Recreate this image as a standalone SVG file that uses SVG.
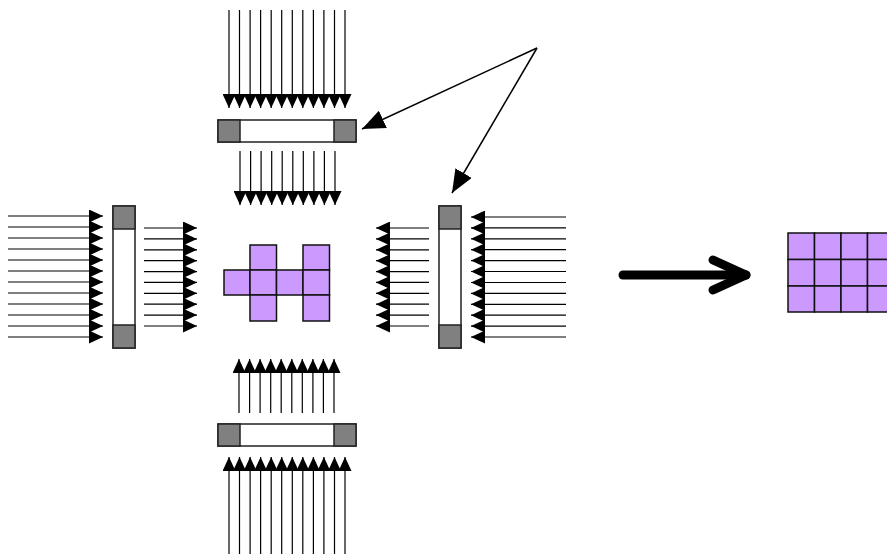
<svg xmlns="http://www.w3.org/2000/svg" width="887" height="554" viewBox="0 0 887 554">
  <defs>
    <style>
      .ray { stroke: #000; stroke-width: 1.2; fill: none; marker-end: url(#tri); }
      .bar { fill: #fff; stroke: #222; stroke-width: 1.5; }
      .cap { fill: #808080; stroke: #222; stroke-width: 1.5; }
      .cell { fill: #cc99ff; stroke: #111; stroke-width: 1.5; }
      .ptr { stroke: #000; stroke-width: 1.5; fill: none; marker-end: url(#ptrHead); }
    </style>
    <marker id="tri" markerUnits="userSpaceOnUse" markerWidth="14" markerHeight="13" refX="14" refY="6.5" orient="auto">
      <path d="M0,0 L14,6.5 L0,13 z" fill="#000"/>
    </marker>
    <marker id="ptrHead" markerUnits="userSpaceOnUse" markerWidth="23" markerHeight="19" refX="23" refY="9.5" orient="auto">
      <path d="M0,0 L23,9.5 L0,19 z" fill="#000"/>
    </marker>
  </defs>

  <g id="connectors">
    <!-- top outer rays (12, pointing down) -->
    <g id="rays-top-outer">
      <line class="ray" x1="229" y1="10" x2="229" y2="108"/>
      <line class="ray" x1="239.5" y1="10" x2="239.5" y2="108"/>
      <line class="ray" x1="250.1" y1="10" x2="250.1" y2="108"/>
      <line class="ray" x1="260.6" y1="10" x2="260.6" y2="108"/>
      <line class="ray" x1="271.2" y1="10" x2="271.2" y2="108"/>
      <line class="ray" x1="281.7" y1="10" x2="281.7" y2="108"/>
      <line class="ray" x1="292.3" y1="10" x2="292.3" y2="108"/>
      <line class="ray" x1="302.8" y1="10" x2="302.8" y2="108"/>
      <line class="ray" x1="313.4" y1="10" x2="313.4" y2="108"/>
      <line class="ray" x1="323.9" y1="10" x2="323.9" y2="108"/>
      <line class="ray" x1="334.5" y1="10" x2="334.5" y2="108"/>
      <line class="ray" x1="345" y1="10" x2="345" y2="108"/>
    </g>
    <!-- top inner rays (10, pointing down) -->
    <g id="rays-top-inner">
      <line class="ray" x1="240" y1="151" x2="240" y2="205"/>
      <line class="ray" x1="250.6" y1="151" x2="250.6" y2="205"/>
      <line class="ray" x1="261.1" y1="151" x2="261.1" y2="205"/>
      <line class="ray" x1="271.7" y1="151" x2="271.7" y2="205"/>
      <line class="ray" x1="282.2" y1="151" x2="282.2" y2="205"/>
      <line class="ray" x1="292.8" y1="151" x2="292.8" y2="205"/>
      <line class="ray" x1="303.3" y1="151" x2="303.3" y2="205"/>
      <line class="ray" x1="313.9" y1="151" x2="313.9" y2="205"/>
      <line class="ray" x1="324.4" y1="151" x2="324.4" y2="205"/>
      <line class="ray" x1="335" y1="151" x2="335" y2="205"/>
    </g>
    <!-- left outer rays (12, pointing right) -->
    <g id="rays-left-outer">
      <line class="ray" x1="8" y1="216" x2="103" y2="216"/>
      <line class="ray" x1="8" y1="227" x2="103" y2="227"/>
      <line class="ray" x1="8" y1="238" x2="103" y2="238"/>
      <line class="ray" x1="8" y1="249" x2="103" y2="249"/>
      <line class="ray" x1="8" y1="260" x2="103" y2="260"/>
      <line class="ray" x1="8" y1="271" x2="103" y2="271"/>
      <line class="ray" x1="8" y1="282" x2="103" y2="282"/>
      <line class="ray" x1="8" y1="293" x2="103" y2="293"/>
      <line class="ray" x1="8" y1="304" x2="103" y2="304"/>
      <line class="ray" x1="8" y1="315" x2="103" y2="315"/>
      <line class="ray" x1="8" y1="326" x2="103" y2="326"/>
      <line class="ray" x1="8" y1="337" x2="103" y2="337"/>
    </g>
    <!-- left inner rays (10, pointing right) -->
    <g id="rays-left-inner">
      <line class="ray" x1="144" y1="228" x2="197" y2="228"/>
      <line class="ray" x1="144" y1="238.9" x2="197" y2="238.9"/>
      <line class="ray" x1="144" y1="249.8" x2="197" y2="249.8"/>
      <line class="ray" x1="144" y1="260.7" x2="197" y2="260.7"/>
      <line class="ray" x1="144" y1="271.6" x2="197" y2="271.6"/>
      <line class="ray" x1="144" y1="282.4" x2="197" y2="282.4"/>
      <line class="ray" x1="144" y1="293.3" x2="197" y2="293.3"/>
      <line class="ray" x1="144" y1="304.2" x2="197" y2="304.2"/>
      <line class="ray" x1="144" y1="315.1" x2="197" y2="315.1"/>
      <line class="ray" x1="144" y1="326" x2="197" y2="326"/>
    </g>
    <!-- right inner rays (10, pointing left) -->
    <g id="rays-right-inner">
      <line class="ray" x1="429" y1="228" x2="376" y2="228"/>
      <line class="ray" x1="429" y1="238.9" x2="376" y2="238.9"/>
      <line class="ray" x1="429" y1="249.8" x2="376" y2="249.8"/>
      <line class="ray" x1="429" y1="260.7" x2="376" y2="260.7"/>
      <line class="ray" x1="429" y1="271.6" x2="376" y2="271.6"/>
      <line class="ray" x1="429" y1="282.4" x2="376" y2="282.4"/>
      <line class="ray" x1="429" y1="293.3" x2="376" y2="293.3"/>
      <line class="ray" x1="429" y1="304.2" x2="376" y2="304.2"/>
      <line class="ray" x1="429" y1="315.1" x2="376" y2="315.1"/>
      <line class="ray" x1="429" y1="326" x2="376" y2="326"/>
    </g>
    <!-- right outer rays (12, pointing left) -->
    <g id="rays-right-outer">
      <line class="ray" x1="566" y1="217" x2="471" y2="217"/>
      <line class="ray" x1="566" y1="227.9" x2="471" y2="227.9"/>
      <line class="ray" x1="566" y1="238.8" x2="471" y2="238.8"/>
      <line class="ray" x1="566" y1="249.7" x2="471" y2="249.7"/>
      <line class="ray" x1="566" y1="260.6" x2="471" y2="260.6"/>
      <line class="ray" x1="566" y1="271.5" x2="471" y2="271.5"/>
      <line class="ray" x1="566" y1="282.5" x2="471" y2="282.5"/>
      <line class="ray" x1="566" y1="293.4" x2="471" y2="293.4"/>
      <line class="ray" x1="566" y1="304.3" x2="471" y2="304.3"/>
      <line class="ray" x1="566" y1="315.2" x2="471" y2="315.2"/>
      <line class="ray" x1="566" y1="326.1" x2="471" y2="326.1"/>
      <line class="ray" x1="566" y1="337" x2="471" y2="337"/>
    </g>
    <!-- bottom inner rays (10, pointing up) -->
    <g id="rays-bottom-inner">
      <line class="ray" x1="239" y1="413" x2="239" y2="359"/>
      <line class="ray" x1="249.6" y1="413" x2="249.6" y2="359"/>
      <line class="ray" x1="260.1" y1="413" x2="260.1" y2="359"/>
      <line class="ray" x1="270.7" y1="413" x2="270.7" y2="359"/>
      <line class="ray" x1="281.2" y1="413" x2="281.2" y2="359"/>
      <line class="ray" x1="291.8" y1="413" x2="291.8" y2="359"/>
      <line class="ray" x1="302.3" y1="413" x2="302.3" y2="359"/>
      <line class="ray" x1="312.9" y1="413" x2="312.9" y2="359"/>
      <line class="ray" x1="323.4" y1="413" x2="323.4" y2="359"/>
      <line class="ray" x1="334" y1="413" x2="334" y2="359"/>
    </g>
    <!-- bottom outer rays (12, pointing up) -->
    <g id="rays-bottom-outer">
      <line class="ray" x1="229" y1="554" x2="229" y2="457"/>
      <line class="ray" x1="239.5" y1="554" x2="239.5" y2="457"/>
      <line class="ray" x1="250.1" y1="554" x2="250.1" y2="457"/>
      <line class="ray" x1="260.6" y1="554" x2="260.6" y2="457"/>
      <line class="ray" x1="271.2" y1="554" x2="271.2" y2="457"/>
      <line class="ray" x1="281.7" y1="554" x2="281.7" y2="457"/>
      <line class="ray" x1="292.3" y1="554" x2="292.3" y2="457"/>
      <line class="ray" x1="302.8" y1="554" x2="302.8" y2="457"/>
      <line class="ray" x1="313.4" y1="554" x2="313.4" y2="457"/>
      <line class="ray" x1="323.9" y1="554" x2="323.9" y2="457"/>
      <line class="ray" x1="334.5" y1="554" x2="334.5" y2="457"/>
      <line class="ray" x1="345" y1="554" x2="345" y2="457"/>
    </g>
    <!-- pointers to the top and right bars -->
    <line class="ptr" x1="537" y1="48" x2="362" y2="129"/>
    <line class="ptr" x1="537" y1="48" x2="452" y2="193"/>
    <!-- thick result arrow -->
    <g id="result-arrow" stroke="#000" stroke-width="9" stroke-linecap="round" stroke-linejoin="round" fill="none">
      <line x1="623" y1="275" x2="746" y2="275"/>
      <polyline points="713,260 746,275 713,290"/>
    </g>
  </g>

  <!-- bars -->
  <g id="bar-top">
    <rect class="bar" x="218" y="120" width="138" height="22"/>
    <rect class="cap" x="218" y="120" width="22" height="22"/>
    <rect class="cap" x="334" y="120" width="22" height="22"/>
  </g>
  <g id="bar-left">
    <rect class="bar" x="113" y="206" width="22" height="142"/>
    <rect class="cap" x="113" y="206" width="22" height="23"/>
    <rect class="cap" x="113" y="325" width="22" height="23"/>
  </g>
  <g id="bar-right">
    <rect class="bar" x="439" y="206" width="22" height="142"/>
    <rect class="cap" x="439" y="206" width="22" height="23"/>
    <rect class="cap" x="439" y="325" width="22" height="23"/>
  </g>
  <g id="bar-bottom">
    <rect class="bar" x="218" y="424" width="138" height="22"/>
    <rect class="cap" x="218" y="424" width="22" height="22"/>
    <rect class="cap" x="334" y="424" width="22" height="22"/>
  </g>

  <!-- central shape -->
  <g id="shape">
    <rect class="cell" x="250" y="245" width="26.5" height="25"/>
    <rect class="cell" x="303" y="245" width="26.5" height="25"/>
    <rect class="cell" x="224" y="270" width="26" height="25"/>
    <rect class="cell" x="250" y="270" width="26.5" height="25"/>
    <rect class="cell" x="276.5" y="270" width="26.5" height="25"/>
    <rect class="cell" x="303" y="270" width="26.5" height="25"/>
    <rect class="cell" x="250" y="295" width="26.5" height="26"/>
    <rect class="cell" x="303" y="295" width="26.5" height="26"/>
  </g>

  <!-- result grid -->
  <g id="grid">
    <rect class="cell" x="788" y="233" width="26.5" height="26.5"/>
    <rect class="cell" x="814.5" y="233" width="26.5" height="26.5"/>
    <rect class="cell" x="841" y="233" width="26.5" height="26.5"/>
    <rect class="cell" x="867.5" y="233" width="26.5" height="26.5"/>
    <rect class="cell" x="788" y="259.5" width="26.5" height="26.5"/>
    <rect class="cell" x="814.5" y="259.5" width="26.5" height="26.5"/>
    <rect class="cell" x="841" y="259.5" width="26.5" height="26.5"/>
    <rect class="cell" x="867.5" y="259.5" width="26.5" height="26.5"/>
    <rect class="cell" x="788" y="286" width="26.5" height="26"/>
    <rect class="cell" x="814.5" y="286" width="26.5" height="26"/>
    <rect class="cell" x="841" y="286" width="26.5" height="26"/>
    <rect class="cell" x="867.5" y="286" width="26.5" height="26"/>
  </g>
</svg>
